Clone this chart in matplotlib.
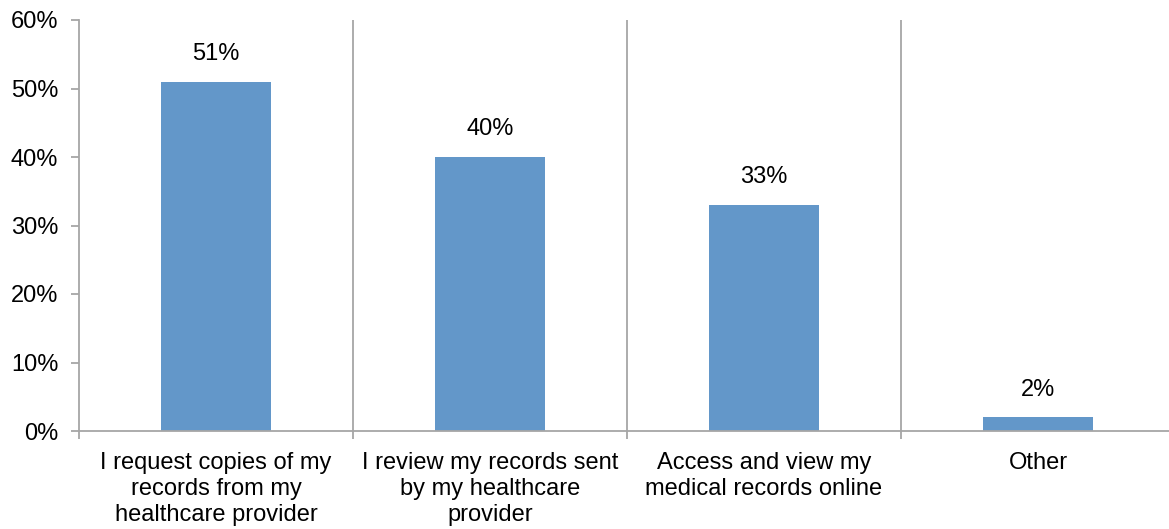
import matplotlib.pyplot as plt
from matplotlib.ticker import FixedLocator

plt.rcParams["font.family"] = ["Liberation Sans", "DejaVu Sans"]

categories = [
    "I request copies of my\nrecords from my\nhealthcare provider",
    "I review my records sent\nby my healthcare\nprovider",
    "Access and view my\nmedical records online",
    "Other",
]
values = [51, 40, 33, 2]
value_labels = ["51%", "40%", "33%", "2%"]
yticks = [0, 10, 20, 30, 40, 50, 60]
ytick_labels = ["0%", "10%", "20%", "30%", "40%", "50%", "60%"]

BAR = "#6397C9"
GRID = "#A6A6A6"
FS = 17

W, H = 1169, 529
fig = plt.figure(figsize=(W / 100, H / 100), dpi=100)
# right edge runs slightly past the figure, like the source
ax = fig.add_axes([79 / W, (H - 431) / H, 1096 / W, 411 / H])

x = range(len(values))
ax.bar(x, values, width=0.4, color=BAR, zorder=2)
for xi, v, lab in zip(x, values, value_labels):
    ax.annotate(lab, (xi, v), xytext=(0, 20), textcoords="offset points",
                ha="center", va="center", fontsize=FS)

ax.set_xlim(-0.5, 3.5)
ax.set_ylim(0, 60)
ax.set_yticks(yticks)
ax.set_yticklabels(ytick_labels, fontsize=FS)

ax.set_xticks(list(x))
ax.set_xticklabels(categories, fontsize=FS, linespacing=1.25)
ax.tick_params(axis="x", which="major", length=0, pad=15)
ax.xaxis.set_minor_locator(FixedLocator([-0.5, 0.5, 1.5, 2.5, 3.5]))
ax.tick_params(axis="x", which="minor", length=6, color=GRID, width=1.3)
ax.tick_params(axis="y", length=6, color=GRID, width=1.3, pad=9)
for b in [0.5, 1.5, 2.5]:
    ax.axvline(b, color=GRID, lw=1.3, zorder=1)

for side in ["top", "right"]:
    ax.spines[side].set_visible(False)
for side in ["left", "bottom"]:
    ax.spines[side].set_color(GRID)
    ax.spines[side].set_linewidth(1.3)

fig.savefig("out.png", dpi=100, facecolor="white")
